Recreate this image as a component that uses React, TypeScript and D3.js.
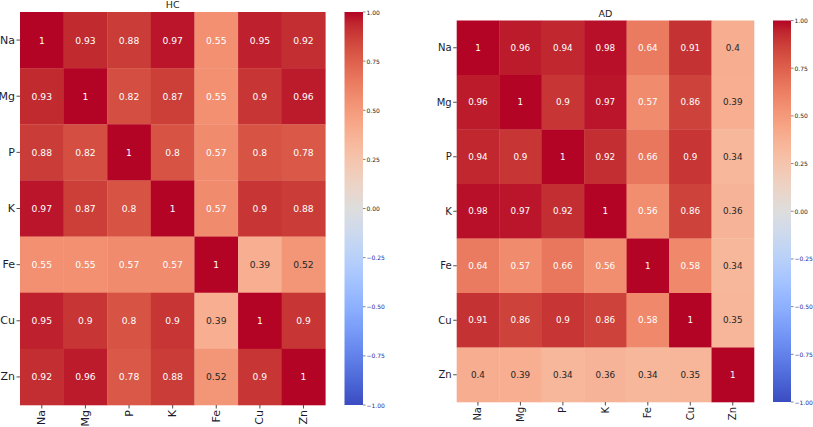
import React from "react";
import * as d3 from "d3";

const elements = ["Na", "Mg", "P", "K", "Fe", "Cu", "Zn"];
const hcValues = [
  [1, 0.93, 0.88, 0.97, 0.55, 0.95, 0.92],
  [0.93, 1, 0.82, 0.87, 0.55, 0.9, 0.96],
  [0.88, 0.82, 1, 0.8, 0.57, 0.8, 0.78],
  [0.97, 0.87, 0.8, 1, 0.57, 0.9, 0.88],
  [0.55, 0.55, 0.57, 0.57, 1, 0.39, 0.52],
  [0.95, 0.9, 0.8, 0.9, 0.39, 1, 0.9],
  [0.92, 0.96, 0.78, 0.88, 0.52, 0.9, 1],
];
const adValues = [
  [1, 0.96, 0.94, 0.98, 0.64, 0.91, 0.4],
  [0.96, 1, 0.9, 0.97, 0.57, 0.86, 0.39],
  [0.94, 0.9, 1, 0.92, 0.66, 0.9, 0.34],
  [0.98, 0.97, 0.92, 1, 0.56, 0.86, 0.36],
  [0.64, 0.57, 0.66, 0.56, 1, 0.58, 0.34],
  [0.91, 0.86, 0.9, 0.86, 0.58, 1, 0.35],
  [0.4, 0.39, 0.34, 0.36, 0.34, 0.35, 1],
];
const cbTicks = [1, 0.75, 0.5, 0.25, 0, -0.25, -0.5, -0.75, -1];

const coolwarmStops = [
  [59, 76, 192], [68, 90, 204], [77, 104, 215], [87, 117, 225], [98, 130, 234],
  [108, 142, 241], [119, 154, 247], [130, 165, 251], [141, 176, 254], [152, 185, 255],
  [163, 194, 255], [174, 201, 253], [184, 208, 249], [194, 213, 244], [204, 217, 238],
  [213, 219, 230], [221, 221, 221], [229, 216, 209], [236, 211, 197], [241, 204, 185],
  [245, 196, 173], [247, 187, 160], [247, 177, 148], [247, 166, 135], [244, 154, 123],
  [241, 141, 111], [236, 127, 99], [229, 112, 88], [222, 96, 77], [213, 80, 66],
  [203, 62, 56], [192, 40, 47], [180, 4, 38],
].map(([r, g, b]) => d3.rgb(r, g, b).toString());

const coolwarm = d3.piecewise(d3.interpolateRgb, coolwarmStops);
const colorScale = (v: number) => coolwarm((v + 1) / 2);

function luminance(c: string) {
  const rgb = d3.rgb(c);
  const lin = [rgb.r, rgb.g, rgb.b].map((x) => {
    const v = x / 255;
    return v <= 0.03928 ? v / 12.92 : Math.pow((v + 0.055) / 1.055, 2.4);
  });
  return 0.2126 * lin[0] + 0.7152 * lin[1] + 0.0722 * lin[2];
}

const FONT = "DejaVu Sans, Verdana, sans-serif";

type HMProps = {
  id: string;
  title: string;
  values: number[][];
  x0: number; x1: number; y0: number; y1: number;
  cbx0: number; cbx1: number;
  labelSize: number; annSize: number;
  titleY: number;
};

function Heatmap(p: HMProps) {
  const x = d3.scaleBand<string>().domain(elements).range([p.x0, p.x1]);
  const y = d3.scaleBand<string>().domain(elements).range([p.y0, p.y1]);
  const cb = d3.scaleLinear().domain([-1, 1]).range([p.y1, p.y0]);
  const gradStops = d3.range(0, 33).map((i) => i / 32);
  return (
    <g>
      <defs>
        <linearGradient id={p.id} x1="0" y1="1" x2="0" y2="0">
          {gradStops.map((t, i) => (
            <stop key={i} offset={t} stopColor={coolwarm(t)} />
          ))}
        </linearGradient>
      </defs>
      <text x={(p.x0 + p.x1) / 2} y={p.titleY} textAnchor="middle" fontFamily={FONT} fontSize={9.5} fill="#222">
        {p.title}
      </text>
      {p.values.map((row, i) =>
        row.map((v, j) => {
          const fill = colorScale(v);
          const tc = luminance(fill) > 0.408 ? "#262626" : "#ffffff";
          return (
            <g key={`${i}-${j}`}>
              <rect
                x={x(elements[j])!}
                y={y(elements[i])!}
                width={x.bandwidth() + 0.3}
                height={y.bandwidth() + 0.3}
                fill={fill}
              />
              <text
                x={x(elements[j])! + x.bandwidth() / 2}
                y={y(elements[i])! + y.bandwidth() / 2}
                textAnchor="middle"
                dominantBaseline="central"
                fontFamily={FONT}
                fontSize={p.annSize}
                fill={tc}
              >
                {String(v)}
              </text>
            </g>
          );
        })
      )}
      {elements.map((e) => {
        const cy = y(e)! + y.bandwidth() / 2;
        return (
          <g key={"y" + e}>
            <line x1={p.x0 - 3.5} x2={p.x0} y1={cy} y2={cy} stroke="#222" strokeWidth={0.8} />
            <text x={p.x0 - 5} y={cy} textAnchor="end" dominantBaseline="central" fontFamily={FONT} fontSize={p.labelSize} fill="#1a1a2e">
              {e}
            </text>
          </g>
        );
      })}
      {elements.map((e) => {
        const cx = x(e)! + x.bandwidth() / 2;
        return (
          <g key={"x" + e}>
            <line x1={cx} x2={cx} y1={p.y1} y2={p.y1 + 3.5} stroke="#222" strokeWidth={0.8} />
            <text
              transform={`translate(${cx},${p.y1 + 5}) rotate(-90)`}
              textAnchor="end"
              dominantBaseline="central"
              fontFamily={FONT}
              fontSize={p.labelSize}
              fill="#1a1a2e"
            >
              {e}
            </text>
          </g>
        );
      })}
      <rect x={p.cbx0} y={p.y0} width={p.cbx1 - p.cbx0} height={p.y1 - p.y0} fill={`url(#${p.id})`} />
      {cbTicks.map((t) => (
        <g key={"cb" + t}>
          <line x1={p.cbx1} x2={p.cbx1 + 2.5} y1={cb(t)} y2={cb(t)} stroke="#333" strokeWidth={0.6} />
          <text
            x={p.cbx1 + 3.5}
            y={cb(t)}
            dominantBaseline="central"
            fontFamily={FONT}
            fontSize={6}
            fill={t < 0 ? "#2a2a9a" : "#222"}
          >
            {d3.format(".2f")(t).replace("-", "\u2212")}
          </text>
        </g>
      ))}
    </g>
  );
}

export default function App() {
  return (
    <svg width={813} height={427} style={{ position: "absolute", left: 0, top: 0, background: "#fff" }}>
      <Heatmap
        id="gradHC"
        title="HC"
        values={hcValues}
        x0={20} x1={325.3} y0={12} y1={405}
        cbx0={344.5} cbx1={363}
        labelSize={11} annSize={9.2}
        titleY={8}
      />
      <Heatmap
        id="gradAD"
        title="AD"
        values={adValues}
        x0={456.7} x1={754} y0={20.5} y1={402}
        cbx0={773} cbx1={791}
        labelSize={10} annSize={8.8}
        titleY={17}
      />
    </svg>
  );
}
